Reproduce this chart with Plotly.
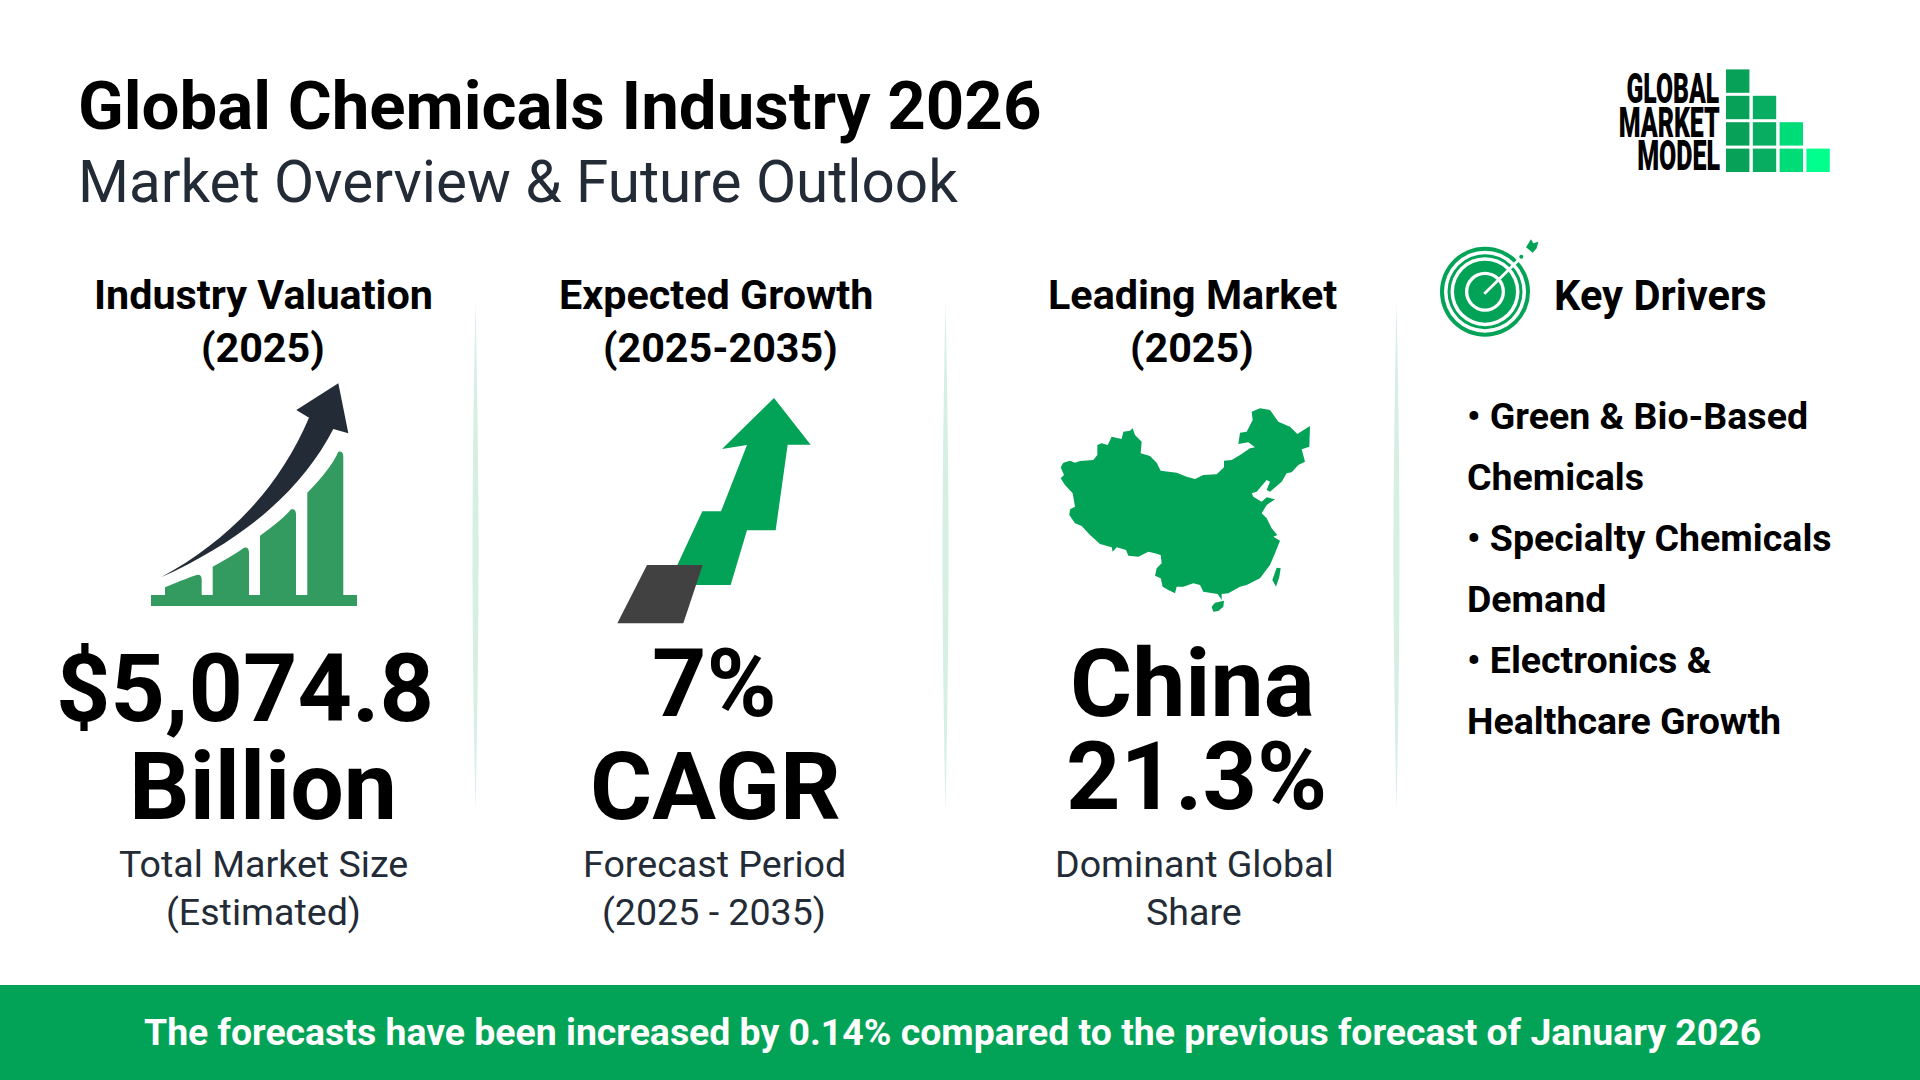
import plotly.graph_objects as go

# text content
title = "Global Chemicals Industry 2026"
subtitle = "Market Overview & Future Outlook"
headers = [["Industry Valuation", "(2025)"], ["Expected Growth", "(2025-2035)"], ["Leading Market", "(2025)"]]
values = [["$5,074.8", "Billion"], ["7%", "CAGR"], ["China", "21.3%"]]
notes = [["Total Market Size", "(Estimated)"], ["Forecast Period", "(2025 - 2035)"], ["Dominant Global", "Share"]]
drivers_title = "Key Drivers"
drivers = ["• Green & Bio-Based", "Chemicals", "• Specialty Chemicals", "Demand", "• Electronics &", "Healthcare Growth"]
footer = "The forecasts have been increased by 0.14% compared to the previous forecast of January 2026"
logo_words = ["GLOBAL", "MARKET", "MODEL"]

GREEN = "#03a357"
INK = "#000000"
SLATE = "#232b36"

fig = go.Figure()
shapes = []
notes_out = []


def poly(points, color):
    d = "M " + " L ".join(f"{x},{y}" for x, y in points) + " Z"
    shapes.append(dict(type="path", path=d, fillcolor=color, line_width=0, layer="below"))


def path(d, color):
    shapes.append(dict(type="path", path=d, fillcolor=color, line_width=0, layer="below"))


def circle(cx, cy, r, color):
    shapes.append(dict(type="circle", x0=cx - r, x1=cx + r, y0=cy - r, y1=cy + r,
                       fillcolor=color, line_width=0, layer="below"))


def rect(x0, y0, x1, y1, color):
    shapes.append(dict(type="rect", x0=x0, x1=x1, y0=y0, y1=y1, fillcolor=color, line_width=0, layer="below"))


def label(x, y, text, size, weight=400, color=INK, anchor="center", family="Roboto"):
    notes_out.append(dict(x=x, y=y, text=text, showarrow=False, xanchor=anchor, yanchor="middle",
                          font=dict(family=family, size=size, color=color, weight=weight)))


def zoomed(points, ox, oy):
    return [(ox + x / 3, oy + y / 3) for x, y in points]


def z2(x, y):
    return f"{130 + x / 3},{370 + y / 3}"


# footer band and the faded column rules
rect(0, 985, 1920, 1080, GREEN)
for x in [475.5, 945.5, 1396.5]:
    path(f"M {x},301 C {x + 2},400 {x + 3},480 {x + 3},556 C {x + 3},632 {x + 2},712 {x},811 "
         f"C {x - 2},712 {x - 3},632 {x - 3},556 C {x - 3},480 {x - 2},400 {x},301 Z", "#d5efe3")

# logo squares
square_colors = ["#07a158", "#08ad62", "#00dc78", "#00ff8c"]
square_rows = [4, 3, 2, 1]
for col, rows in enumerate(square_rows):
    for row in range(rows):
        x0 = 1726 + col * 26.8
        y0 = 148.6 - row * 26.4
        rect(x0, y0, x0 + 23.4, y0 + 23.4, square_colors[col])

# valuation icon
rect(151, 595, 357, 606, "#339b5f")
bar_tops = [(165, 587.3, 201.7, 575), (212.7, 566.7, 249, 547.7), (260, 535.7, 296, 509.3), (307.3, 492.7, 343.3, 451.7)]
for x0, y0, x1, y1 in bar_tops:
    path(f"M {x0},596 L {x0},{y0} Q {(x0 + x1) / 2 + 6},{(y0 + y1) / 2 - 4} {x1 - 5},{y1} "
         f"Q {x1},{y1 - 1} {x1},{y1 + 5} L {x1},596 Z", "#339b5f")
path(f"M {z2(93, 622)} C {z2(280, 520)} {z2(440, 370)} {z2(537, 143)} L {z2(499, 120)} L {z2(625, 40)} "
     f"L {z2(655, 190)} L {z2(610, 177)} C {z2(520, 350)} {z2(360, 500)} {z2(93, 622)} Z", SLATE)

# growth icon
poly(zoomed([(522, 54), (632, 194), (563, 194), (527, 451), (441, 451), (392, 615), (270, 615), (232, 555),
             (307, 394), (363, 394), (441, 195), (366, 207)], 600, 380), "#03a357")
poly(zoomed([(141, 555), (308, 555), (250, 730), (52, 730)], 600, 380), "#414141")

# China silhouette
china = [(62, 232), (70, 218), (90, 212), (105, 218), (120, 213), (160, 210), (172, 195), (172, 165), (185, 160),
         (203, 165), (215, 140), (245, 147), (250, 125), (270, 122), (278, 115), (285, 135), (305, 155), (302, 190),
         (330, 198), (350, 218), (362, 242), (410, 248), (440, 260), (465, 267), (490, 255), (530, 253), (552, 232),
         (552, 212), (575, 210), (600, 195), (630, 175), (645, 172), (625, 157), (595, 162), (600, 128), (620, 125),
         (638, 90), (635, 65), (660, 55), (690, 60), (715, 95), (750, 110), (772, 132), (810, 108), (808, 170),
         (785, 178), (795, 215), (775, 225), (755, 247), (740, 250), (725, 275), (690, 305), (680, 300), (690, 275),
         (680, 270), (650, 305), (635, 310), (640, 320), (665, 335), (680, 322), (705, 328), (680, 345), (665, 370),
         (680, 385), (695, 415), (712, 435), (700, 440), (720, 452), (705, 490), (690, 525), (660, 565), (620, 585),
         (600, 590), (565, 610), (545, 612), (545, 630), (533, 612), (490, 605), (480, 585), (460, 580), (430, 590),
         (410, 590), (405, 610), (385, 600), (368, 590), (362, 565), (345, 557), (350, 535), (365, 520), (362, 495),
         (345, 490), (325, 485), (295, 500), (265, 497), (258, 480), (230, 472), (218, 485), (215, 472), (180, 462),
         (150, 435), (125, 408), (105, 400), (88, 375), (90, 358), (105, 350), (98, 310), (75, 285), (62, 265), (72, 255)]
poly(zoomed(china, 1040, 390), GREEN)
poly(zoomed([(710, 533), (722, 535), (718, 560), (708, 590), (697, 570)], 1040, 390), GREEN)
poly(zoomed([(515, 650), (525, 638), (552, 632), (550, 650), (535, 663), (520, 665)], 1040, 390), GREEN)

# target icon
for r, color in [(45, GREEN), (41, "#ffffff"), (37.5, GREEN), (34.5, "#ffffff"), (31, GREEN), (20, "#ffffff"), (16.7, GREEN)]:
    circle(1485, 291.7, r, color)
poly(zoomed([(190, 188), (298, 82), (304, 88), (196, 194)], 1420, 230), "#ffffff")
poly(zoomed([(333, 28), (340, 40), (355, 35), (350, 55), (338, 68), (318, 52)], 1420, 230), GREEN)
circle(1521.3, 256.7, 2, GREEN)

# texts
label(76, 106, title, 67.2, 700, anchor="left")
label(76, 182, subtitle, 58.4, 400, "#232b36", anchor="left")

header_x = [[263, 263], [716, 720], [1192, 1192]]
header_y = [295, 348]
value_x = [[245, 263], [714, 715], [1192, 1196]]
value_y = [[688.5, 786.5], [683.5, 786.5], [683.5, 776.5]]
note_x = [263, 714, 1194]
note_y = [864, 912]
for i in range(3):
    for j in range(2):
        label(header_x[i][j], header_y[j], headers[i][j], 41.3, 700)
        label(value_x[i][j], value_y[i][j], values[i][j], 95, 700)
        label(note_x[i], note_y[j], notes[i][j], 37.6, 400, "#232b36")

label(1552, 295, drivers_title, 41.6, 700, anchor="left")
for line, y in zip(drivers, [416, 477, 538, 599, 660, 721]):
    label(1464.5, y, line, 37.5, 700, anchor="left")

label(952.6, 1031.5, footer, 37.4, 700, "#ffffff")

# the logo wordmark is squeezed to its condensed width in the page script below
for word, x, y in zip(logo_words, [1673, 1669, 1678], [88.7, 122, 155]):
    label(x, y, word, 42, 900)

fig.update_layout(
    width=1920, height=1080, margin=dict(l=0, r=0, t=0, b=0),
    paper_bgcolor="#ffffff", plot_bgcolor="#ffffff", showlegend=False,
    xaxis=dict(range=[0, 1920], visible=False, fixedrange=True),
    yaxis=dict(range=[1080, 0], visible=False, fixedrange=True),
    shapes=shapes, annotations=notes_out,
)

squeeze = """
document.body.style.margin = '0';
var logoWidths = {GLOBAL: 92.7, MARKET: 101, MODEL: 83};
document.querySelectorAll('.annotation-text').forEach(function (t) {
  if (logoWidths[t.textContent]) {
    t.setAttribute('textLength', logoWidths[t.textContent]);
    t.setAttribute('lengthAdjust', 'spacingAndGlyphs');
  }
});
"""
fig.write_html("out.html", post_script=squeeze, config={"displayModeBar": False})
